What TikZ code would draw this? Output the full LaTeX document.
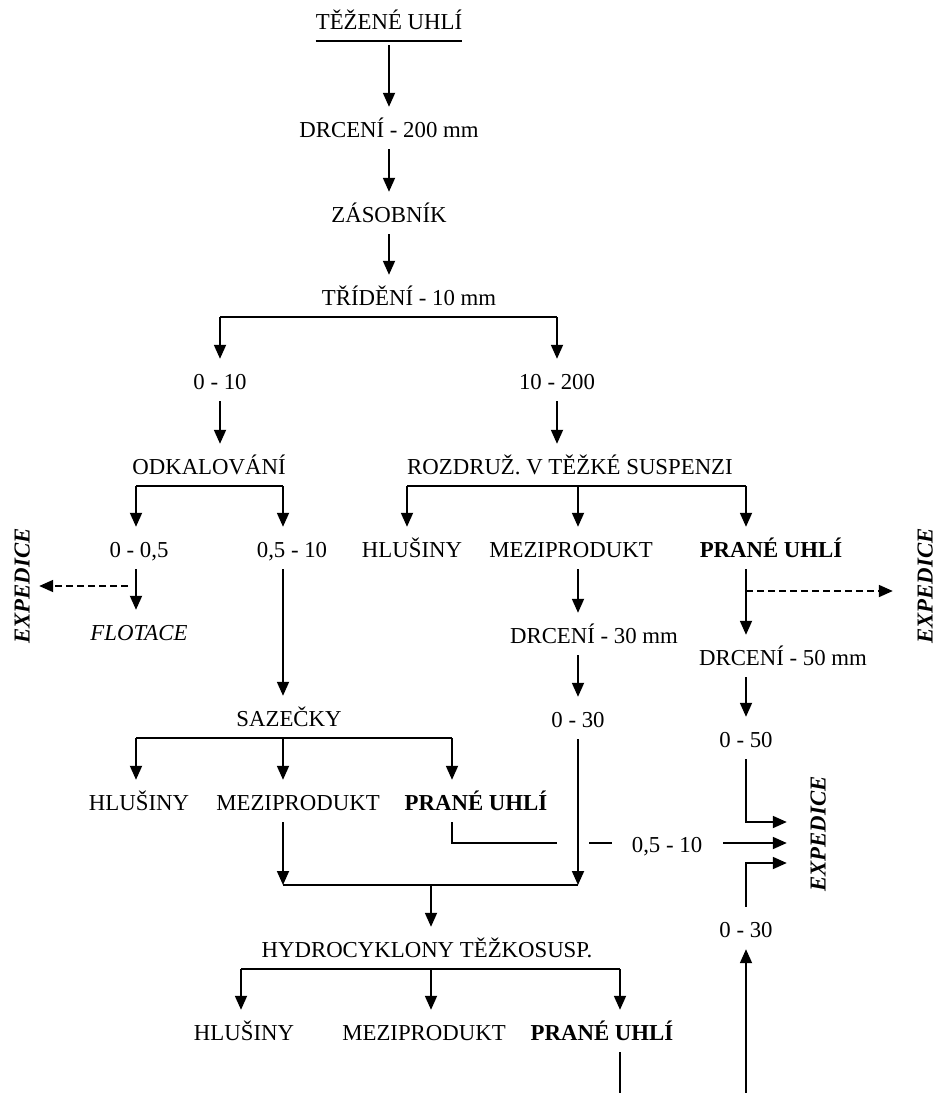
\documentclass[tikz,border=0pt]{standalone}
\usepackage{fontspec}
\setmainfont{Liberation Serif}
\usetikzlibrary{arrows.meta}
\tikzset{
  proc/.style={inner xsep=0pt, inner ysep=11.5pt, text height=19pt, text depth=0pt,
               font=\fontsize{22.8}{26}\selectfont},
  prodb/.style={proc, font=\fontsize{22.8}{26}\selectfont\bfseries},
  prodi/.style={proc, font=\fontsize{22.8}{26}\selectfont\itshape},
  expd/.style={rotate=90, inner sep=0pt, text height=15pt, text depth=0pt,
               font=\fontsize{22.8}{26}\selectfont\bfseries\itshape},
  link/.style={line width=1.8pt},
  flow/.style={link, -{Triangle[length=14pt,width=12pt]}},
  dflow/.style={flow, dash pattern=on 7pt off 4pt},
}
\begin{document}
\begin{tikzpicture}[x=1pt, y=-1pt]
  \useasboundingbox (0,0) rectangle (936,1093);
  % columns of the branches
  \coordinate (cLL) at (136,0); \coordinate (cLR) at (283,0);
  \coordinate (cR1) at (407,0); \coordinate (cR2) at (578,0); \coordinate (cR3) at (746,0);
  \coordinate (cS3) at (452,0);
  \coordinate (cH1) at (241,0); \coordinate (cH2) at (431,0); \coordinate (cH3) at (620,0);
  % main line
  \node[proc] (tez) at (389,20) {TĚŽENÉ UHLÍ};
  \node[proc] (drc200) at (389,128) {DRCENÍ - 200 mm};
  \node[proc] (zas) at (389,213) {ZÁSOBNÍK};
  \node[proc] (tri) at (409,296) {TŘÍDĚNÍ - 10 mm};
  \draw[link] (tez.south west) -- (tez.south east);
  \draw[flow, shorten <=4pt] (tez.south) -- (drc200.north);
  \draw[flow] (drc200.south) -- (zas.north);
  \draw[flow] (zas.south) -- (zas.south |- tri.north);
  \node[proc] (n010) at (220,380) {0 - 10};
  \node[proc] (n10200) at (557,380) {10 - 200};
  \draw[link] (tri.south -| n010) -- (tri.south -| n10200);
  \draw[flow] (tri.south -| n010) -- (n010.north);
  \draw[flow] (tri.south -| n10200) -- (n10200.north);
  % fine coal 0 - 10
  \node[proc] (odk) at (209,465) {ODKALOVÁNÍ};
  \draw[flow] (n010.south) -- (n010.south |- odk.north);
  \node[proc] (n005) at (139,548) {0 - 0,5};
  \node[proc] (n0510) at (292,548) {0,5 - 10};
  \draw[link] (odk.south -| cLL) -- (odk.south -| cLR);
  \draw[flow] (odk.south -| cLL) -- (n005.north -| cLL);
  \draw[flow] (odk.south -| cLR) -- (n0510.north -| cLR);
  \node[prodi] (flo) at (139,631) {FLOTACE};
  \draw[flow] (n005.south -| cLL) -- (flo.north -| cLL);
  \node[expd] (expL) at (22,586) {EXPEDICE};
  \coordinate (dL) at (136,586);
  \draw[dflow, shorten <=8pt, shorten >=9.5pt] (dL) -- (dL -| expL.south);
  \node[proc] (saz) at (289,717) {SAZEČKY};
  \draw[flow] (n0510.south -| cLR) -- (saz.north -| cLR);
  \node[proc] (hlu2) at (139,801) {HLUŠINY};
  \node[proc] (mez2) at (298,801) {MEZIPRODUKT};
  \node[prodb] (pra2) at (476,801) {PRANÉ UHLÍ};
  \draw[link] (saz.south -| cLL) -- (saz.south -| cS3);
  \draw[flow] (saz.south -| cLL) -- (hlu2.north -| cLL);
  \draw[flow] (saz.south -| cLR) -- (mez2.north -| cLR);
  \draw[flow] (saz.south -| cS3) -- (pra2.north -| cS3);
  % coarse coal 10 - 200
  \node[proc] (roz) at (570,465) {ROZDRUŽ. V TĚŽKÉ SUSPENZI};
  \draw[flow] (n10200.south) -- (n10200.south |- roz.north);
  \node[proc] (hlu1) at (412,548) {HLUŠINY};
  \node[proc] (mez1) at (571,548) {MEZIPRODUKT};
  \node[prodb] (pra1) at (771,548) {PRANÉ UHLÍ};
  \draw[link] (roz.south -| cR1) -- (roz.south -| cR3);
  \draw[flow] (roz.south -| cR1) -- (hlu1.north -| cR1);
  \draw[flow] (roz.south -| cR2) -- (mez1.north -| cR2);
  \draw[flow] (roz.south -| cR3) -- (pra1.north -| cR3);
  \node[proc] (drc30) at (594,634) {DRCENÍ - 30 mm};
  \node[proc] (n030a) at (578,718) {0 - 30};
  \draw[flow] (mez1.south -| cR2) -- (drc30.north -| cR2);
  \draw[flow] (drc30.south -| cR2) -- (n030a.north);
  \node[proc] (drc50) at (783,656) {DRCENÍ - 50 mm};
  \node[proc] (n050) at (746,738) {0 - 50};
  \draw[flow] (pra1.south -| cR3) -- (drc50.north -| cR3);
  \draw[flow] (drc50.south -| cR3) -- (n050.north);
  \node[expd] (expR) at (925,586) {EXPEDICE};
  \coordinate (dR) at (746,591);
  \draw[dflow, shorten >=24.5pt] (dR) -- (dR -| expR.north);
  % joining to the hydrocyclones
  \coordinate (mrg) at (431,885);
  \draw[flow] (mez2.south -| cLR) -- (mrg -| cLR);
  \draw[flow] (n030a.south) -- (n030a.south |- mrg);
  \draw[link] (mrg -| cLR) -- (mrg -| n030a);
  \node[proc] (hyd) at (427,948) {HYDROCYKLONY TĚŽKOSUSP.};
  \draw[flow] (mrg) -- (hyd.north -| mrg);
  \node[proc] (hlu3) at (244,1031) {HLUŠINY};
  \node[proc] (mez3) at (424,1031) {MEZIPRODUKT};
  \node[prodb] (pra3) at (602,1031) {PRANÉ UHLÍ};
  \draw[link] (hyd.south -| cH1) -- (hyd.south -| cH3);
  \draw[flow] (hyd.south -| cH1) -- (hlu3.north -| cH1);
  \draw[flow] (hyd.south -| cH2) -- (mez3.north -| cH2);
  \draw[flow] (hyd.south -| cH3) -- (pra3.north -| cH3);
  % products to expedition
  \node[expd] (expM) at (818,834) {EXPEDICE};
  \node[proc] (n0510b) at (667,843) {0,5 - 10};
  \node[proc] (n030b) at (746,928) {0 - 30};
  \coordinate (hA) at (557,843); \coordinate (hB) at (589,843);
  \draw[link] (pra2.south -| cS3) |- (hA);
  \draw[link, shorten >=20pt] (hB) -- (n0510b.west);
  \coordinate (jA) at (746,822); \coordinate (jB) at (746,863);
  \draw[flow, shorten >=23.5pt] (n050.south) -- (jA) -- (jA -| expM.north);
  \draw[flow, shorten <=21pt, shorten >=23.5pt] (n0510b.east) -- (n0510b.east -| expM.north);
  \draw[flow, shorten >=23.5pt] (n030b.north) -- (jB) -- (jB -| expM.north);
  \coordinate (b1) at (620,1093); \coordinate (b2) at (746,1093);
  \draw[link] (pra3.south -| cH3) -- (b1);
  \draw[flow] (b2) -- (n030b.south);
\end{tikzpicture}
\end{document}
